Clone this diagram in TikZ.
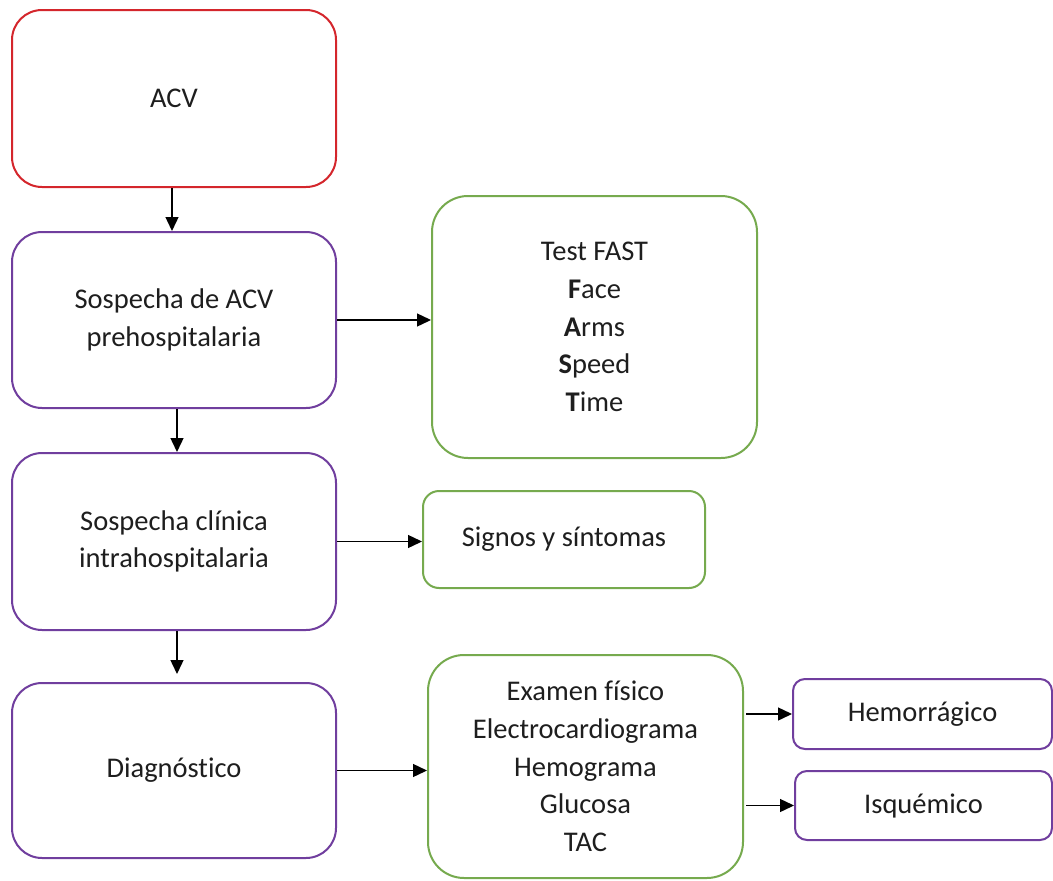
\documentclass[tikz,border=0pt]{standalone}
\usepackage{fontspec}
\setmainfont{Carlito}[Ligatures=NoCommon]
\usetikzlibrary{arrows.meta}
\definecolor{boxred}{RGB}{212,38,44}
\definecolor{boxpurple}{RGB}{112,62,158}
\definecolor{boxgreen}{RGB}{118,170,78}
\definecolor{txt}{RGB}{30,30,30}
\tikzset{
  box/.style={draw, line width=2pt, fill=white, inner sep=0pt, align=center,
    text=txt, font=\fontsize{28.5}{37.7}\selectfont},
  redbox/.style={box, draw=boxred, rounded corners=30pt},
  purplebox/.style={box, draw=boxpurple, rounded corners=30pt},
  greenbox/.style={box, draw=boxgreen, rounded corners=36pt},
  smallgreen/.style={box, draw=boxgreen, rounded corners=16pt},
  smallpurple/.style={box, draw=boxpurple, rounded corners=12pt},
  arr/.style={-{Triangle[length=14pt,width=13pt]}, line width=1.4pt, black}
}
\begin{document}
\begin{tikzpicture}[x=1pt,y=-1pt]
\useasboundingbox (0,0) rectangle (1053,881);
\node[redbox, minimum width=324pt, minimum height=177pt] (acv) at (174,98.5) {ACV};
\node[purplebox, minimum width=324pt, minimum height=176pt] (pre) at (174,320) {Sospecha de ACV\\prehospitalaria};
\node[purplebox, minimum width=324pt, minimum height=177pt] (intra) at (174,541.5) {Sospecha clínica\\intrahospitalaria};
\node[purplebox, minimum width=324pt, minimum height=175pt] (diag) at (174,770.5) {Diagnóstico};
\node[greenbox, minimum width=325pt, minimum height=262pt] (fast) at (594.5,327) {Test FAST\\\textbf{F}ace\\\textbf{A}rms\\\textbf{S}peed\\\textbf{T}ime};
\node[smallgreen, minimum width=282pt, minimum height=97pt] (signos) at (564,539.5) {Signos y síntomas};
\node[greenbox, minimum width=315pt, minimum height=223pt] (exam) at (585.5,766.5) {Examen físico\\Electrocardiograma\\Hemograma\\Glucosa\\TAC};
\node[smallpurple, minimum width=259pt, minimum height=70pt] (hem) at (922.5,714) {Hemorrágico};
\node[smallpurple, minimum width=257pt, minimum height=69pt] (isq) at (923.5,805.5) {Isquémico};
\draw[arr] ([xshift=-2pt]acv.south) -- ([xshift=-2pt]pre.north);
\draw[arr] ([xshift=3pt]pre.south) -- ([xshift=3pt]intra.north);
\draw[arr, shorten >=8pt] ([xshift=3pt]intra.south) -- ([xshift=3pt]diag.north);
\draw[arr] (pre.east) -- (pre.east -| fast.west);
\draw[arr] (intra.east) -- (intra.east -| signos.west);
\draw[arr] (diag.east) -- (diag.east -| exam.west);
\draw[arr] ([xshift=2pt]exam.east |- hem.west) -- (hem.west);
\draw[arr] ([xshift=2pt]exam.east |- isq.west) -- (isq.west);
\end{tikzpicture}
\end{document}
